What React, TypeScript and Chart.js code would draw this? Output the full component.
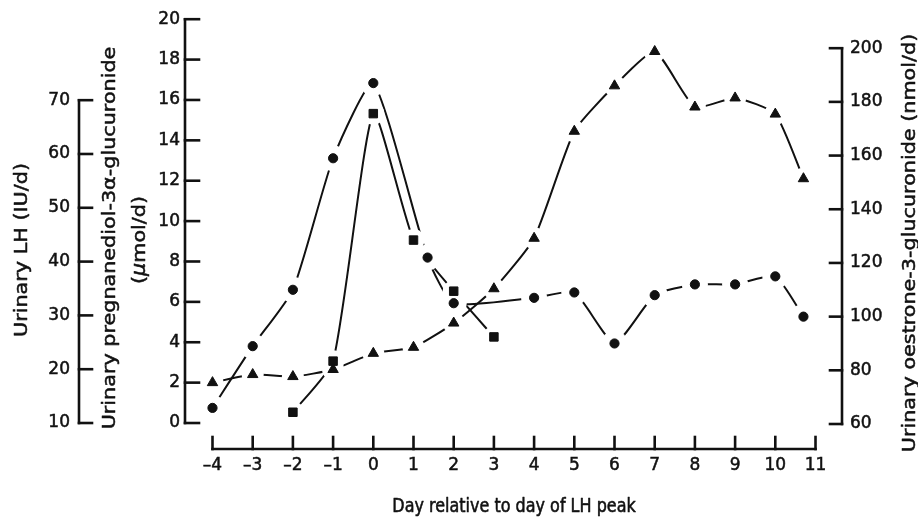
import React, { useEffect, useRef } from "react";
import { Chart, registerables } from "chart.js";

Chart.register(...registerables);

// ---------- data ----------
const oestroneDays = [-4, -3, -2, -1, 0, 1.35, 2, 4, 5, 6, 7, 8, 9, 10, 10.7];
const oestroneValues = [66, 89, 110, 159, 187, 122, 105, 107, 109, 90, 108, 112, 112, 115, 100];

const lhDays = [-2, -1, 0, 1, 2, 3];
const lhValues = [12, 21.5, 67.5, 44, 34.5, 26];

const pregDays = [-4, -3, -2, -1, 0, 1, 2, 3, 4, 5, 6, 7, 8, 9, 10, 10.7];
const pregValues = [2.0, 2.4, 2.3, 2.65, 3.45, 3.75, 4.95, 6.65, 9.15, 14.45, 16.7, 18.4, 15.65, 16.1, 15.3, 12.1];

const dayTicks = [-4, -3, -2, -1, 0, 1, 2, 3, 4, 5, 6, 7, 8, 9, 10, 11];
const pregTicks = [0, 2, 4, 6, 8, 10, 12, 14, 16, 18, 20];
const lhTicks = [10, 20, 30, 40, 50, 60, 70];
const oestroneTicks = [60, 80, 100, 120, 140, 160, 180, 200];

const xTitle = "Day relative to day of LH peak";
const lhTitle = "Urinary LH (IU/d)";
const pregTitleLine1 = "Urinary pregnanediol-3\u03b1-glucuronide";
const pregTitleLine2 = ["(", "\u03bc", "mol/d)"];
const oestroneTitle = "Urinary oestrone-3-glucuronide (nmol/d)";

// ---------- style ----------
const INK = "#111";
const FAMILY = "'DejaVu Sans', 'Liberation Sans', Arial, sans-serif";
const TEXT_STROKE = 0.5;

const pts = (xs: number[], ys: number[]) => xs.map((x, i) => ({ x, y: ys[i] }));

const series = [
  { axis: "yOe", xs: oestroneDays, ys: oestroneValues, style: "circle", r: 4.6, halo: 13 },
  { axis: "yLH", xs: lhDays, ys: lhValues, style: "rect", r: 6, halo: 11 },
  { axis: "yPreg", xs: pregDays, ys: pregValues, style: "triangle", r: 6, halo: 11 },
];

const fixedTicks = (vals: number[]) => (scale: any) => {
  scale.ticks = vals.map((v) => ({ value: v }));
};

const axesPlugin = {
  id: "oldStyleAxes",
  afterDatasetsDraw(chart: any) {
    const { ctx, chartArea, scales } = chart;

    // white gaps round every marker, then the library's own marker elements drawn again on top
    ctx.save();
    ctx.fillStyle = "#ffffff";
    const markerMetas = series.map((_, i) => chart.getDatasetMeta(i));
    markerMetas.forEach((meta: any, si: number) => {
      meta.data.forEach((el: any) => {
        ctx.beginPath();
        ctx.arc(el.x, el.y, series[si].halo, 0, Math.PI * 2);
        ctx.closePath();
        ctx.fill();
      });
    });
    markerMetas.forEach((meta: any) => {
      meta.data.forEach((el: any) => el.draw(ctx, chartArea));
    });
    ctx.restore();

    const sx = scales.x;
    const yP = scales.yPreg;
    const yL = scales.yLH;
    const yO = scales.yOe;
    ctx.save();
    ctx.strokeStyle = INK;
    ctx.fillStyle = INK;
    ctx.lineWidth = 2.6;
    ctx.lineCap = "square";
    const line = (x1: number, y1: number, x2: number, y2: number) => {
      ctx.beginPath();
      ctx.moveTo(x1, y1);
      ctx.lineTo(x2, y2);
      ctx.stroke();
    };

    // pregnanediol axis (inner left)
    const pl = chartArea.left;
    line(pl, yP.getPixelForValue(pregTicks[0]), pl, yP.getPixelForValue(pregTicks[pregTicks.length - 1]));
    pregTicks.forEach((v) => {
      const p = yP.getPixelForValue(v);
      line(pl, p, pl + 14, p);
    });

    // LH axis (outer left)
    const ll = yL.right;
    line(ll, yL.getPixelForValue(lhTicks[0]), ll, yL.getPixelForValue(lhTicks[lhTicks.length - 1]));
    lhTicks.forEach((v) => {
      const p = yL.getPixelForValue(v);
      line(ll, p, ll + 13, p);
    });

    // oestrone axis (right)
    const rl = chartArea.right;
    line(rl, yO.getPixelForValue(oestroneTicks[0]), rl, yO.getPixelForValue(oestroneTicks[oestroneTicks.length - 1]));
    oestroneTicks.forEach((v) => {
      const p = yO.getPixelForValue(v);
      line(rl - 12, p, rl, p);
    });

    // day axis (bottom)
    const bl = chartArea.bottom;
    line(sx.getPixelForValue(dayTicks[0]), bl, sx.getPixelForValue(dayTicks[dayTicks.length - 1]), bl);
    dayTicks.forEach((v) => {
      const p = sx.getPixelForValue(v);
      line(p, bl, p, bl - 12);
    });

    // titles
    const TF = 18.5;
    const stretch = 1.12;
    ctx.lineWidth = TEXT_STROKE;
    ctx.lineJoin = "round";
    ctx.textBaseline = "alphabetic";
    ctx.textAlign = "center";
    const put = (text: string, x: number, y: number) => {
      ctx.fillText(text, x, y);
      ctx.strokeText(text, x, y);
    };
    const vText = (text: string, bx: number, cy: number) => {
      ctx.save();
      ctx.translate(bx, cy);
      ctx.rotate(-Math.PI / 2);
      ctx.scale(stretch, 1);
      ctx.font = `${TF}px ${FAMILY}`;
      put(text, 0, 0);
      ctx.restore();
    };
    vText(lhTitle, 27, 250);
    vText(pregTitleLine1, 115, 238);
    // second line with italic mu
    ctx.save();
    ctx.translate(145, 240);
    ctx.rotate(-Math.PI / 2);
    ctx.scale(stretch, 1);
    ctx.textAlign = "left";
    const fonts = [`${TF}px ${FAMILY}`, `italic ${TF}px ${FAMILY}`, `${TF}px ${FAMILY}`];
    let total = 0;
    const widths = pregTitleLine2.map((t, i) => {
      ctx.font = fonts[i];
      const w = ctx.measureText(t).width;
      total += w;
      return w;
    });
    let cx = -total / 2;
    pregTitleLine2.forEach((t, i) => {
      ctx.font = fonts[i];
      put(t, cx, 0);
      cx += widths[i];
    });
    ctx.restore();
    vText(oestroneTitle, 915, 243);

    // x title
    ctx.save();
    ctx.translate((sx.getPixelForValue(dayTicks[0]) + sx.getPixelForValue(dayTicks[dayTicks.length - 1])) / 2, 511.5);
    ctx.scale(1, 1.22);
    ctx.font = `16px ${FAMILY}`;
    ctx.textAlign = "center";
    put(xTitle, 0, 0);
    ctx.restore();

    ctx.restore();
  },
};

const tickFont = { family: FAMILY, size: 17 };
const tickStyle = { font: tickFont, color: INK, textStrokeColor: INK, textStrokeWidth: TEXT_STROKE };

export default function App() {
  const ref = useRef<HTMLCanvasElement>(null);

  useEffect(() => {
    if (!ref.current) return;
    const markers = series.map((s) => ({
      data: pts(s.xs, s.ys),
      xAxisID: "x",
      yAxisID: s.axis,
      showLine: false,
      pointStyle: s.style,
      pointRadius: s.r,
      pointBackgroundColor: INK,
      pointBorderColor: INK,
      pointBorderWidth: 1,
    }));
    const lines = series.map((s) => ({
      data: pts(s.xs, s.ys),
      xAxisID: "x",
      yAxisID: s.axis,
      borderColor: INK,
      borderWidth: 2,
      pointRadius: 0,
      pointHoverRadius: 0,
      tension: 0.18,
      fill: false,
    }));
    const datasets: any[] = [...markers, ...lines];

    const chart = new Chart(ref.current, {
      type: "line",
      data: { datasets },
      plugins: [axesPlugin],
      options: {
        responsive: false,
        animation: false,
        events: [],
        layout: { padding: { top: 19, left: 0, right: 0, bottom: 0 } },
        plugins: { legend: { display: false }, tooltip: { enabled: false } },
        scales: {
          x: {
            type: "linear",
            position: "bottom",
            min: -4.684,
            max: 11.659,
            afterBuildTicks: fixedTicks(dayTicks),
            afterFit: (s: any) => {
              s.height = 69;
            },
            grid: { display: false, drawTicks: false },
            border: { display: false },
            ticks: {
              ...tickStyle,
              padding: 6,
              autoSkip: false,
              maxRotation: 0,
              callback: (v: any) => (Number(v) < 0 ? "\u2013" + Math.abs(Number(v)) : String(v)),
            },
          },
          yPreg: {
            type: "linear",
            position: "left",
            weight: 0,
            min: -1.287,
            max: 20,
            afterBuildTicks: fixedTicks(pregTicks),
            afterFit: (s: any) => {
              s.width = 106;
            },
            grid: { display: false, drawTicks: false },
            border: { display: false },
            ticks: { ...tickStyle, padding: 5 },
          },
          yLH: {
            type: "linear",
            position: "left",
            weight: 1,
            min: 5.17,
            max: 85.05,
            afterBuildTicks: fixedTicks(lhTicks),
            afterFit: (s: any) => {
              s.width = 79;
            },
            grid: { display: false, drawTicks: false },
            border: { display: false },
            ticks: { ...tickStyle, padding: 9 },
          },
          yOe: {
            type: "linear",
            position: "right",
            min: 50.69,
            max: 210.8,
            afterBuildTicks: fixedTicks(oestroneTicks),
            afterFit: (s: any) => {
              s.width = 76;
            },
            grid: { display: false, drawTicks: false },
            border: { display: false },
            ticks: { ...tickStyle, padding: 8 },
          },
        },
      } as any,
    } as any);
    return () => chart.destroy();
  }, []);

  return (
    <div style={{ position: "fixed", left: 0, top: 0, width: 918, height: 518, background: "#fff" }}>
      <canvas ref={ref} width={918} height={518} style={{ display: "block" }} />
    </div>
  );
}
